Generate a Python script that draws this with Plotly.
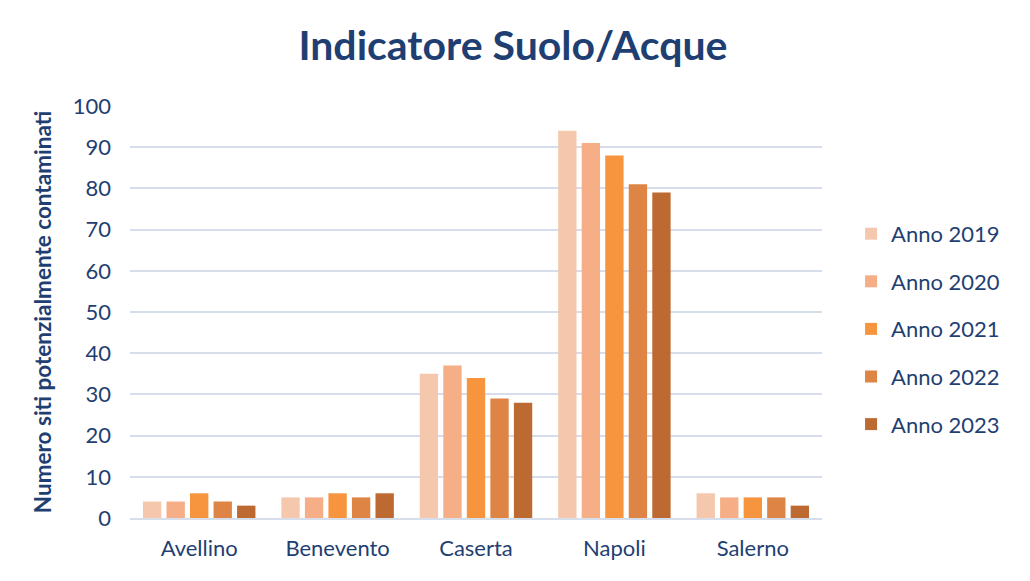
import plotly.graph_objects as go

categories = ["Avellino", "Benevento", "Caserta", "Napoli", "Salerno"]
series_names = ["Anno 2019", "Anno 2020", "Anno 2021", "Anno 2022", "Anno 2023"]
v2019 = [4, 5, 35, 94, 6]
v2020 = [4, 5, 37, 91, 5]
v2021 = [6, 6, 34, 88, 5]
v2022 = [4, 5, 29, 81, 5]
v2023 = [3, 6, 28, 79, 3]
values = [v2019, v2020, v2021, v2022, v2023]
colors = ["#F5C8AE", "#F6AE86", "#F7953F", "#DE8444", "#BD6A32"]

text_color = "#1F3F73"
font_family = "Lato, Carlito, 'Open Sans', sans-serif"

fig = go.Figure()
for i, (name, vals) in enumerate(zip(series_names, values)):
    fig.add_trace(go.Bar(
        x=categories, y=vals, name=name,
        marker=dict(color=colors[i], line=dict(width=0)),
        legendgroup=name,
    ))

fig.update_layout(
    width=1030, height=581,
    paper_bgcolor="white", plot_bgcolor="white",
    margin=dict(l=130, r=208, t=106, b=63),
    barmode="group", bargap=0.15, bargroupgap=0.22,
    title=dict(text="<b>Indicatore Suolo/Acque</b>", x=0.498, xanchor="center",
               y=0.922, yanchor="middle",
               font=dict(size=41, color=text_color, family=font_family)),
    font=dict(family=font_family, color=text_color, size=22),
    legend=dict(x=1.042, xanchor="left", y=0.459, yanchor="middle",
                font=dict(size=22, color=text_color), tracegroupgap=16,
                itemwidth=30, bgcolor="rgba(0,0,0,0)"),
    xaxis=dict(showgrid=False, showline=True, linecolor="#D6DEEC", linewidth=1.5,
               ticks="", ticklabelstandoff=10,
               tickfont=dict(size=22, color=text_color)),
    yaxis=dict(range=[0, 100], dtick=10, showgrid=True, gridcolor="#D6DEEC",
               gridwidth=1.5, zeroline=False, ticks="", ticklen=0,
               ticklabelstandoff=18,
               tickfont=dict(size=22, color=text_color),
               title=dict(text="<b>Numero siti potenzialmente contaminati</b>",
                          font=dict(size=22.5, color=text_color), standoff=14)),
)

fig.write_html("out.html")
